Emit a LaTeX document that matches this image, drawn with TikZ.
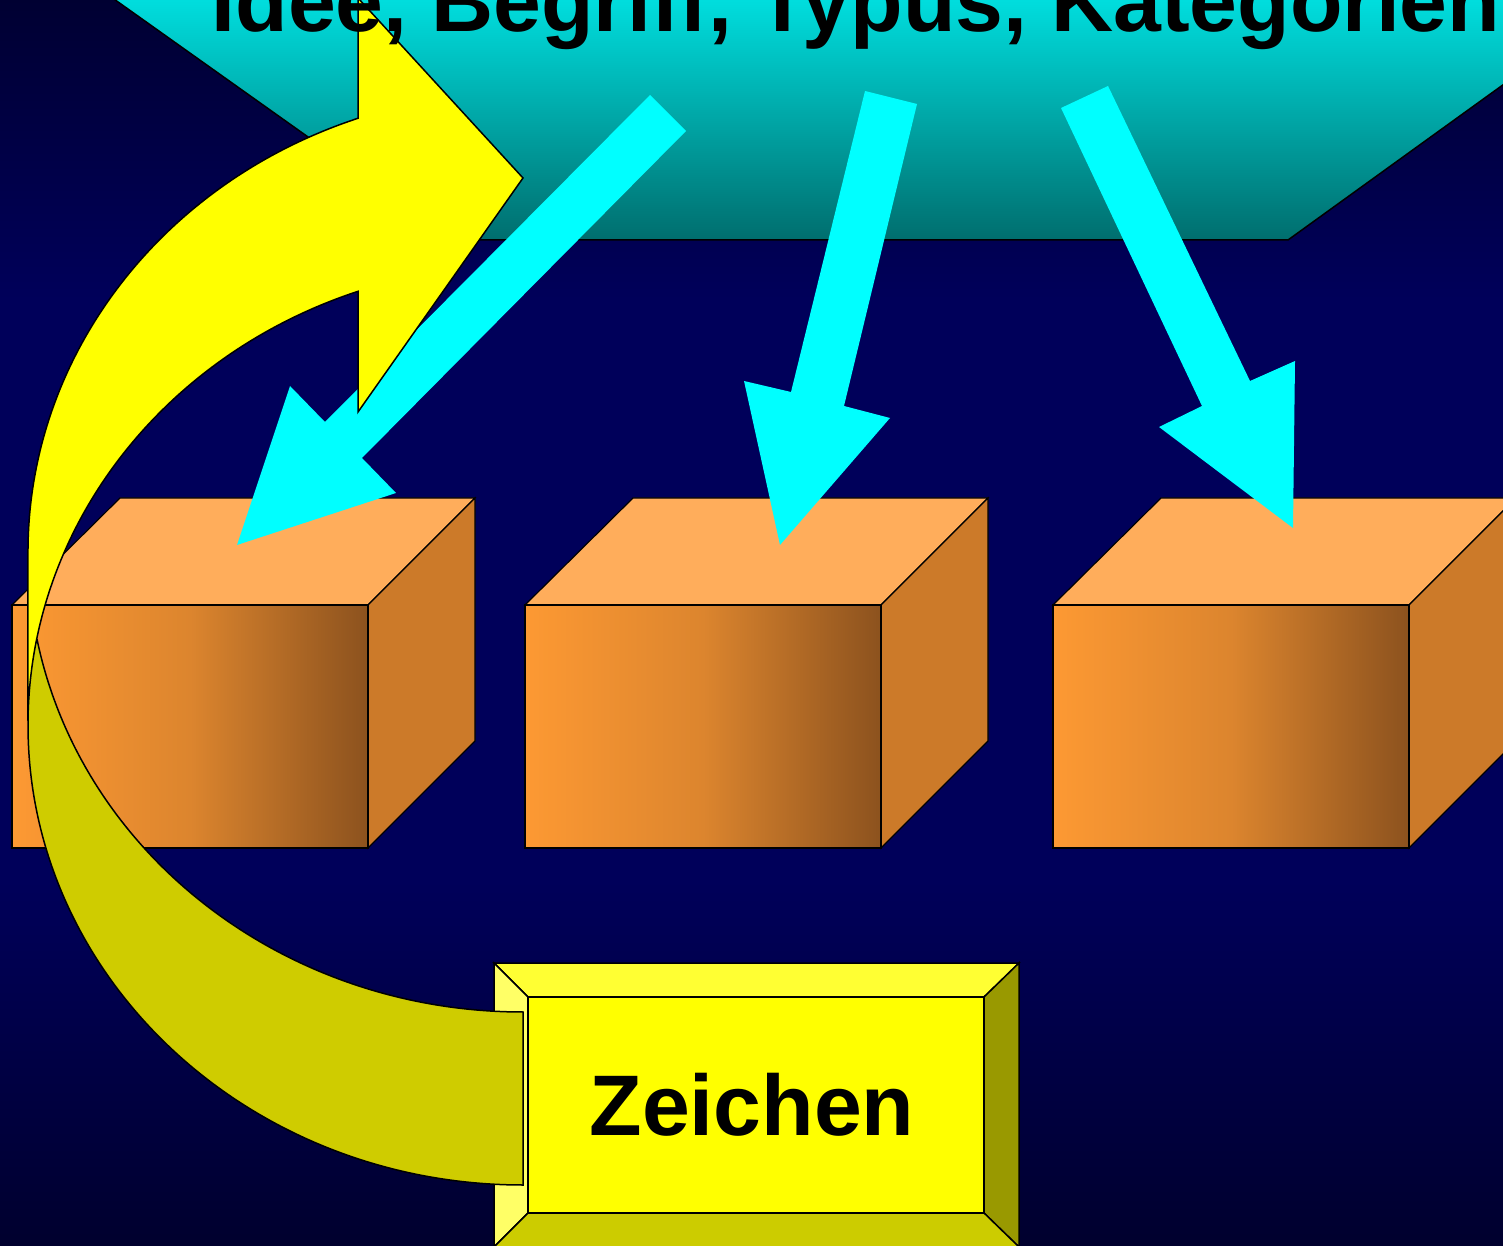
\documentclass[tikz,border=0pt]{standalone}
\usepackage{fontspec}
\setmainfont{Liberation Sans}
\usetikzlibrary{calc}
\definecolor{bgtop}{RGB}{0,0,50}
\definecolor{bgmid}{RGB}{0,0,90}
\definecolor{bgbot}{RGB}{0,0,46}
\definecolor{trtop}{RGB}{0,240,240}
\definecolor{trmid}{RGB}{0,188,188}
\definecolor{trbot}{RGB}{0,110,110}
\definecolor{arrcyan}{RGB}{0,255,255}
\definecolor{boxtop}{RGB}{255,173,91}
\definecolor{boxside}{RGB}{204,122,41}
\definecolor{boxfl}{RGB}{253,153,51}
\definecolor{boxfm}{RGB}{220,133,46}
\definecolor{boxfr}{RGB}{140,82,30}
\definecolor{ylw}{RGB}{255,255,0}
\definecolor{ylwdark}{RGB}{207,204,0}
\definecolor{bevtop}{RGB}{255,255,51}
\definecolor{bevleft}{RGB}{255,255,102}
\definecolor{bevright}{RGB}{153,153,0}
\definecolor{bevbot}{RGB}{204,204,0}
\newcommand\obox[1]{%
  \begin{scope}[shift={(#1,0)}]
    \fill[boxtop,draw=black,line width=1.2] (0,640) -- (108,747) -- (463,747) -- (356,640) -- cycle;
    \fill[boxside,draw=black,line width=1.2] (356,640) -- (463,747) -- (463,504) -- (356,397) -- cycle;
    \shadedraw[left color=boxfl, right color=boxfr, middle color=boxfm, draw=black, line width=1.5] (0,397) rectangle (356,640);
  \end{scope}}
\begin{document}
\begin{tikzpicture}[x=1pt,y=1pt,line join=miter,
  outl/.style={draw=black,line width=1.5},
  ell/.style={x radius=495, y radius=460}]
\useasboundingbox (0,0) rectangle (1503,1245);
\begin{scope}
\clip (0,0) rectangle (1503,1245);
% background
\fill[bgmid] (0,0) rectangle (1503,1245);
\shade[top color=bgtop, bottom color=bgmid] (0,945) rectangle (1503,1246);
\shade[top color=bgmid, bottom color=bgbot] (0,-1) rectangle (1503,365);
% cyan trapezoid
\shadedraw[top color=trtop, middle color=trmid, bottom color=trbot, draw=black, line width=1.5]
  (59,1285) -- (453,1005) -- (1288,1005) -- (1676,1285) -- cycle;
% orange boxes
\obox{12}
\obox{525}
\obox{1053}
% cyan block arrows
\fill[arrcyan] (650,1150) -- (686,1114) -- (362,787) -- (396,752) -- (237,700) -- (290,859) -- (325,823) -- cycle;
\fill[arrcyan] (865,1154) -- (917,1141) -- (844,839) -- (890,827) -- (780,700) -- (744,864) -- (791,853) -- cycle;
\fill[arrcyan] (1061,1137) -- (1108,1159) -- (1250,864) -- (1295,884) -- (1293,717) -- (1159,818) -- (1202,839) -- cycle;
% Zeichen box
\fill[ylw] (528,32) rectangle (984,248);
\fill[bevtop,outl] (494,282) -- (1019,282) -- (984,248) -- (528,248) -- cycle;
\fill[bevleft,outl] (494,282) -- (528,248) -- (528,32) -- (494,-2) -- cycle;
\fill[bevright,outl] (1019,282) -- (1019,-2) -- (984,32) -- (984,248) -- cycle;
\fill[bevbot,outl] (494,-2) -- (528,32) -- (984,32) -- (1019,-2) -- cycle;
\draw[outl] (528,32) rectangle (984,248);
% yellow curved arrow: front face
\fill[ylw] (28,520) arc[start angle=180, end angle=109.47, ell]
  -- (358,833) -- (523,1067) -- (358,1247) -- (358,1126.7)
  arc[start angle=109.47, end angle=180, ell] -- cycle;
% back face
\fill[ylwdark] (523,233) arc[start angle=270, end angle=190.84, ell]
  arc[start angle=169.16, end angle=270, ell] -- cycle;
% outline
\draw[outl] (28,520) arc[start angle=180, end angle=109.47, ell]
  -- (358,833) -- (523,1067) -- (358,1247) -- (358,1126.7)
  arc[start angle=109.47, end angle=180, ell] -- (28,520)
  arc[start angle=180, end angle=270, ell] -- (523,233)
  arc[start angle=270, end angle=190.84, ell];
% texts
\node[anchor=base, inner sep=0, font=\fontsize{86}{100}\selectfont\bfseries] (zeichen) at (752,110) {Zeichen};
\node[anchor=base, inner sep=0, font=\fontsize{86}{100}\selectfont\bfseries] (title) at (856,1213) {Idee, Begriff, Typus, Kategorien};
\end{scope}
\end{tikzpicture}
\end{document}
